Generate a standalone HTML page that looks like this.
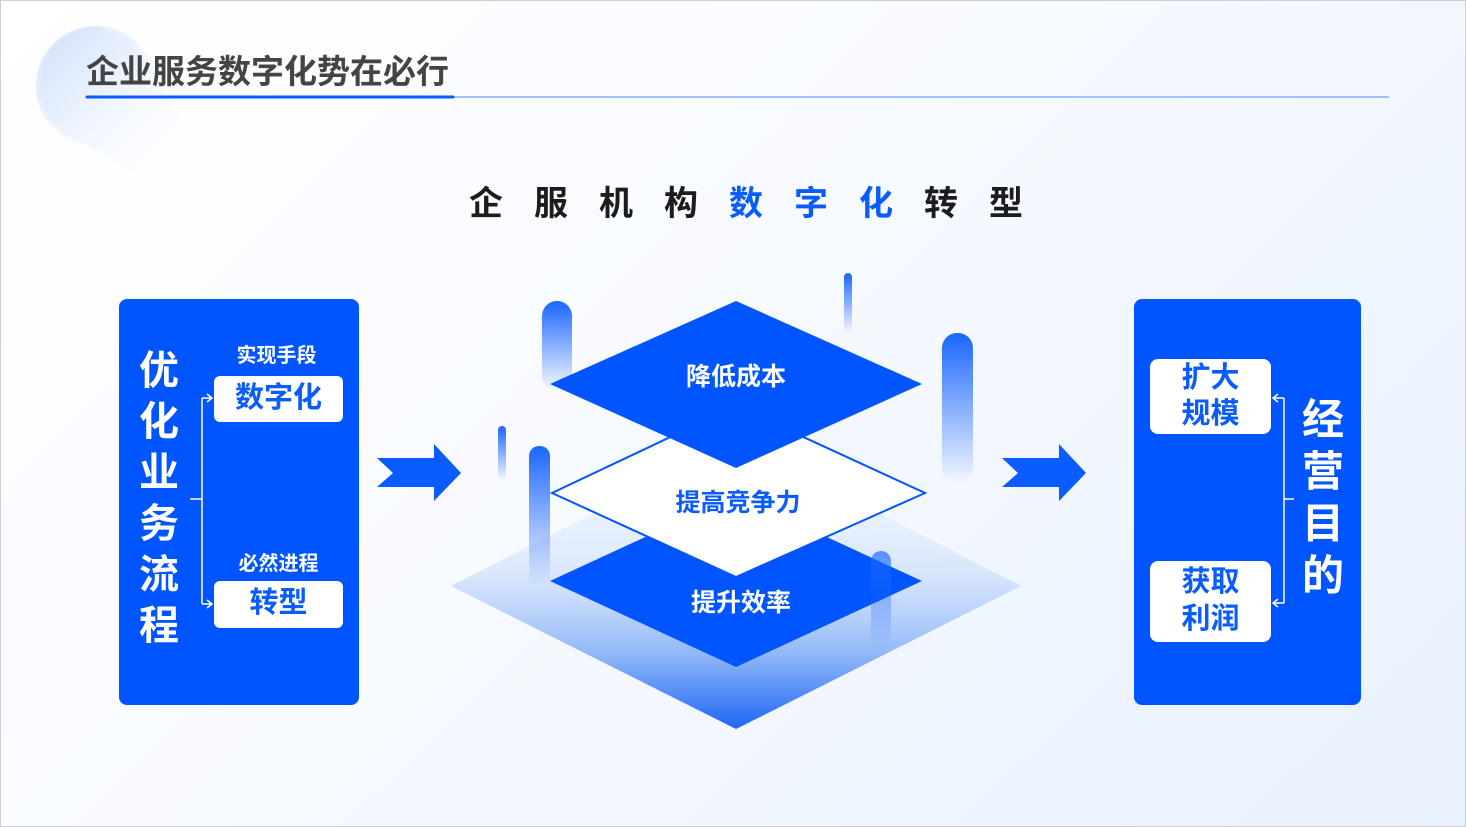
<!DOCTYPE html>
<html><head><meta charset="utf-8"><style>
*{margin:0;padding:0;box-sizing:border-box}
body{width:1466px;height:827px;overflow:hidden;font-family:"Liberation Sans","Noto Sans CJK SC",sans-serif}
.page{position:absolute;left:0;top:0;width:1466px;height:827px;border:1px solid #cfcfcf;background:linear-gradient(135deg,#ffffff 0%,#f7faff 45%,#e8f1fd 100%);overflow:hidden}
.abs{position:absolute}
.t{font-weight:bold;white-space:nowrap}
</style></head><body><div class="page">
<svg class="abs" style="left:0;top:0" width="1466" height="827">
<defs>
<linearGradient id="blob" x1="0" y1="0" x2="1" y2="1"><stop offset="0" stop-color="#cfe0fa"/><stop offset="0.6" stop-color="#eef4fe" stop-opacity="0.6"/><stop offset="1" stop-color="#fff" stop-opacity="0"/></linearGradient>
<linearGradient id="pil" x1="0" y1="0" x2="0" y2="1"><stop offset="0" stop-color="#1a66ff"/><stop offset="1" stop-color="#1a66ff" stop-opacity="0"/></linearGradient>
<linearGradient id="floor" x1="0" y1="0" x2="0" y2="1"><stop offset="0" stop-color="#e6effd" stop-opacity="0.1"/><stop offset="0.45" stop-color="#c9dcfb" stop-opacity="0.6"/><stop offset="0.75" stop-color="#8db5f8"/><stop offset="1" stop-color="#1f66f5"/></linearGradient>
</defs>
<path d="M95 25 A60 60 0 0 0 60 130 L130 170 L180 120 L130 40 Z" fill="url(#blob)"/>
<circle cx="95" cy="85" r="60" fill="url(#blob)"/>
<line x1="452" y1="96" x2="1388" y2="96" stroke="#7fb0ff" stroke-width="1.5"/>
<line x1="86" y1="96" x2="452" y2="96" stroke="#0a5cff" stroke-width="3" stroke-linecap="round"/>
<polygon points="450,585 735,440 1020,585 735,728" fill="url(#floor)"/>
<rect x="541" y="300" width="30" height="90" rx="15" fill="url(#pil)"/>
<rect x="843" y="272" width="8" height="60" rx="4" fill="url(#pil)"/>
<rect x="941" y="332" width="31" height="150" rx="15" fill="url(#pil)"/>
<rect x="497" y="425" width="8" height="55" rx="4" fill="url(#pil)"/>
<rect x="528" y="445" width="21" height="140" rx="10" fill="url(#pil)"/>
<polygon points="549,580 735,494 921,580 735,666" fill="#0055ff"/>
<rect x="870" y="550" width="20" height="95" rx="10" fill="url(#pil)" opacity="0.7"/>
<polygon points="551,492 735,405 924,492 735,576" fill="#fff" stroke="#0055ff" stroke-width="2"/>
<polygon points="549,383 735,300 921,383 735,467" fill="#0055ff"/>
<polygon points="376,457 433,457 433,443 460,472 433,500 433,486 376,486 392,472" fill="#0a5cff"/>
<polygon points="1001,457 1058,457 1058,443 1085,472 1058,500 1058,486 1001,486 1017,472" fill="#0a5cff"/>
<rect x="118" y="298" width="240" height="406" rx="8" fill="#0055ff"/>
<rect x="1133" y="298" width="227" height="406" rx="8" fill="#0055ff"/>
<rect x="213" y="375" width="129" height="46" rx="6" fill="#fff"/>
<rect x="213" y="580" width="129" height="47" rx="6" fill="#fff"/>
<rect x="1149" y="358" width="121" height="75" rx="8" fill="#fff"/>
<rect x="1149" y="560" width="121" height="81" rx="8" fill="#fff"/>
<g stroke="#fff" stroke-width="1.5" fill="none">
<path d="M189 498 H201 M201 397 V603 M201 397 H210 M206 393 L211 397 L206 401 M201 603 H210 M206 599 L211 603 L206 607"/>
<path d="M1293 498 H1283 M1283 397 V602 M1283 397 H1273 M1277 393 L1272 397 L1277 401 M1283 602 H1273 M1277 598 L1272 602 L1277 606"/>
</g>
</svg>
<div class="abs t" style="left:85px;top:52px;font-size:33px;color:#444;line-height:38px">企业服务数字化势在必行</div>
<div class="abs t" style="left:468px;top:183px;font-size:34px;line-height:40px;letter-spacing:31px;color:#1c1c1c">企服机构<span style="color:#0a5cff">数字化</span>转型</div>
<div class="abs t" style="left:135px;top:345px;width:46px;font-size:40px;line-height:51px;color:#fff;text-align:center">优<br>化<br>业<br>务<br>流<br>程</div>
<div class="abs t" style="left:213px;top:343px;width:125px;text-align:center;font-size:20px;color:#fff;line-height:24px">实现手段</div>
<div class="abs t" style="left:213px;top:551px;width:129px;text-align:center;font-size:20px;color:#fff;line-height:24px">必然进程</div>
<div class="abs t" style="left:213px;top:378px;width:129px;text-align:center;font-size:29px;color:#0a5cff;line-height:38px">数字化</div>
<div class="abs t" style="left:213px;top:583px;width:129px;text-align:center;font-size:29px;color:#0a5cff;line-height:38px">转型</div>
<div class="abs t" style="left:1149px;top:359px;width:121px;text-align:center;font-size:29px;color:#0a5cff;line-height:36px">扩大<br>规模</div>
<div class="abs t" style="left:1149px;top:563px;width:121px;text-align:center;font-size:29px;color:#0a5cff;line-height:37px">获取<br>利润</div>
<div class="abs t" style="left:1298px;top:393px;width:48px;font-size:42px;line-height:52px;color:#fff;text-align:center">经<br>营<br>目<br>的</div>
<div class="abs t" style="left:635px;top:361px;width:200px;text-align:center;font-size:25px;color:#fff;line-height:30px">降低成本</div>
<div class="abs t" style="left:637px;top:487px;width:200px;text-align:center;font-size:25px;color:#0a5cff;line-height:30px">提高竞争力</div>
<div class="abs t" style="left:640px;top:587px;width:200px;text-align:center;font-size:25px;color:#fff;line-height:30px">提升效率</div>
</div></body></html>
